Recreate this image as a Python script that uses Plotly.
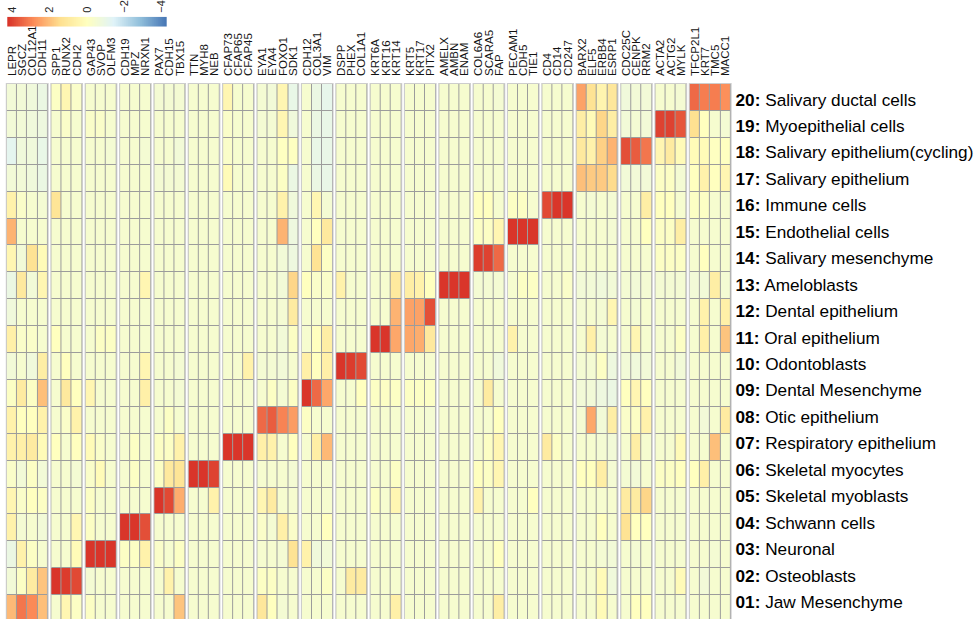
import numpy as np
import plotly.graph_objects as go

# Marker genes, one block per cluster (cluster 01 ... cluster 20)
gene_groups = [
    ["LEPR", "SGCZ", "COL12A1", "CDH11"],
    ["SPP1", "RUNX2", "CDH2"],
    ["GAP43", "SVOP", "OLFM3"],
    ["CDH19", "MPZ", "NRXN1"],
    ["PAX7", "CDH15", "TBX15"],
    ["TTN", "MYH8", "NEB"],
    ["CFAP73", "CFAP65", "CFAP45"],
    ["EYA1", "EYA4", "FOXO1", "SDK1"],
    ["CDH12", "COL3A1", "VIM"],
    ["DSPP", "PHEX", "COL1A1"],
    ["KRT6A", "KRT16", "KRT14"],
    ["KRT5", "KRT17", "PITX2"],
    ["AMELX", "AMBN", "ENAM"],
    ["COL6A6", "SCARA5", "FAP"],
    ["PECAM1", "CDH5", "TIE1"],
    ["CD4", "CD14", "CD247"],
    ["BARX2", "ELF5", "ERBB4", "ESRP1"],
    ["CDC25C", "CENPK", "RRM2"],
    ["ACTA2", "ACTG2", "MYLK"],
    ["TFCP2L1", "KRT7", "TMC5", "MACC1"],
]

cluster_ids = ["01", "02", "03", "04", "05", "06", "07", "08", "09", "10",
               "11", "12", "13", "14", "15", "16", "17", "18", "19", "20"]
cluster_names = [
    "Jaw Mesenchyme", "Osteoblasts", "Neuronal", "Schwann cells",
    "Skeletal myoblasts", "Skeletal myocytes", "Respiratory epithelium",
    "Otic epithelium", "Dental Mesenchyme", "Odontoblasts", "Oral epithelium",
    "Dental epithelium", "Ameloblasts", "Salivary mesenchyme",
    "Endothelial cells", "Immune cells", "Salivary epithelium",
    "Salivary epithelium(cycling)", "Myoepithelial cells",
    "Salivary ductal cells",
]

# Scaled mean expression per cluster, split by gene block
z01 = [[2.1, 3.2, 2.9, 2.0], [-0.4, 0.4, -0.12], [-0.12, -0.4, -0.4], [-0.4, -0.4, -0.4],
       [-0.4, -0.4, 1.9], [-0.4, -0.4, -0.4], [-0.4, -0.4, -0.4], [1.1, 0.0, -0.5, -0.4],
       [-0.4, -0.4, -0.4], [-0.4, -0.4, -0.4], [-0.4, -0.4, 0.7], [-0.4, -0.4, -0.4],
       [-0.4, -0.4, -0.4], [-0.4, -0.4, 0.8], [-0.4, -0.4, -0.4], [-0.4, -0.4, -0.4],
       [-0.4, -0.4, 0.2, -0.4], [-0.4, 0.0, 0.0], [-0.4, -0.4, -0.4], [-0.4, -0.4, -0.4, -0.4]]
z02 = [[-0.6, -0.12, 0.9, 1.9], [4.2, 4.1, 3.9], [-0.5, -0.4, -0.4], [-0.4, -0.4, -0.4],
       [-0.4, 0.6, -0.4], [-0.4, -0.4, -0.4], [-0.4, -0.4, -0.4], [-0.12, -0.12, -0.4, -0.4],
       [-0.4, -0.4, -0.12], [-0.4, 0.9, 0.9], [-0.4, -0.4, -0.4], [-0.4, -0.4, -0.4],
       [-0.4, -0.4, -0.4], [-0.4, -0.4, -0.4], [-0.4, -0.4, -0.4], [-0.4, -0.4, -0.4],
       [-0.4, -0.4, 0.2, -0.7], [-0.4, -0.4, -0.4], [-0.4, -0.4, 0.2], [-0.4, -0.6, -0.4, -0.4]]
z03 = [[-0.9, 0.6, -0.12, -0.4], [-0.4, -0.4, 0.2], [4.2, 4.2, 4.2], [-0.12, -0.12, 0.6],
       [-0.25, -0.4, -0.12], [-0.4, -0.4, -0.4], [-0.4, -0.4, -0.4], [-0.4, -0.4, -0.5, 1.3],
       [0.6, -0.7, -0.6], [-0.4, -0.4, -0.4], [-0.4, -0.4, -0.4], [-0.4, -0.4, -0.4],
       [-0.4, -0.4, -0.4], [-0.4, -0.4, 0.0], [-0.4, -0.4, -0.4], [-0.4, -0.4, -0.4],
       [-0.4, -0.4, -0.5, -0.6], [-0.4, -0.5, -0.4], [-0.4, -0.4, -0.4], [-0.4, -0.4, -0.5, -0.4]]
z04 = [[0.6, -0.5, -0.4, -0.6], [-0.4, -0.4, 0.4], [-0.12, -0.4, -0.4], [4.2, 4.2, 3.8],
       [-0.4, -0.4, -0.4], [-0.4, -0.4, -0.4], [-0.4, -0.4, -0.4], [-0.25, -0.5, 0.7, -0.25],
       [-0.4, -0.4, 0.0], [-0.4, -0.4, -0.4], [-0.4, -0.4, -0.4], [-0.4, -0.4, -0.4],
       [-0.4, -0.4, -0.4], [-0.4, -0.4, -0.4], [-0.4, -0.4, -0.4], [-0.4, -0.4, -0.4],
       [-0.4, -0.4, 0.0, -0.4], [1.3, 0.0, 0.0], [-0.4, -0.4, -0.4], [-0.4, -0.4, -0.4, -0.4]]
z05 = [[0.4, -0.25, 0.0, -0.12], [-0.4, -0.4, -0.4], [-0.12, -0.4, -0.4], [-0.4, -0.4, -0.4],
       [4.2, 3.9, 2.3], [-0.4, -0.4, 0.6], [-0.4, -0.4, -0.4], [0.4, 0.9, -0.4, -0.4],
       [-0.4, -0.4, -0.4], [-0.4, -0.4, -0.4], [-0.12, -0.4, 0.4], [-0.4, -0.4, -0.4],
       [-0.4, -0.4, -0.4], [0.6, -0.4, -0.4], [-0.4, -0.4, 0.0], [-0.4, -0.4, -0.4],
       [-0.4, -0.4, -0.4, -0.4], [0.9, 0.9, 1.6], [-0.4, -0.4, -0.4], [-0.4, -0.4, -0.4, -0.4]]
z06 = [[-0.25, -0.6, -0.12, -0.6], [-0.4, -0.4, -0.5], [-0.25, 0.2, -0.4], [-0.4, -0.12, -0.4],
       [-0.12, 1.0, 1.2], [4.2, 4.2, 4.0], [-0.4, -0.4, -0.4], [-0.4, -0.4, -0.4, -0.5],
       [-0.4, -0.4, -0.4], [-0.4, -0.4, -0.4], [-0.4, -0.4, -0.12], [-0.4, -0.4, -0.4],
       [-0.4, -0.4, -0.4], [0.0, -0.12, 0.4], [-0.4, -0.4, -0.4], [-0.4, -0.4, -0.4],
       [0.0, 0.0, 0.8, -0.5], [-0.5, -0.6, -0.4], [-0.12, -0.12, 0.0], [0.0, 0.7, -0.4, -0.4]]
z07 = [[0.6, 0.7, 0.9, 0.2], [0.0, -0.4, 0.0], [0.2, -0.25, -0.4], [-0.4, -0.12, -0.4],
       [-0.12, -0.12, 0.6], [-0.4, -0.4, -0.4], [4.2, 4.2, 4.2], [0.7, 0.6, -0.4, 0.0],
       [-0.4, 0.8, 2.1], [-0.4, -0.4, -0.4], [-0.4, -0.4, -0.4], [-0.4, -0.4, -0.4],
       [-0.4, -0.4, -0.4], [-0.4, -0.12, 0.4], [-0.4, -0.4, -0.4], [0.9, -0.12, -0.4],
       [-0.4, -0.4, -0.5, -0.6], [-0.4, 0.8, -0.4], [-0.4, -0.4, 0.2], [-0.4, -0.4, 2.0, -0.4]]
z08 = [[0.6, 0.0, 0.0, 0.6], [-0.4, -0.25, 0.6], [-0.4, -0.4, -0.4], [-0.4, -0.4, -0.4],
       [-0.4, -0.12, -0.4], [-0.4, -0.4, -0.4], [-0.4, -0.4, -0.4], [3.4, 3.6, 3.0, 2.6],
       [-0.12, -0.4, -0.4], [-0.4, -0.4, -0.4], [-0.4, -0.4, -0.4], [-0.4, -0.4, -0.5],
       [-0.4, -0.4, -0.4], [-0.4, -0.4, 0.0], [-0.4, -0.4, -0.4], [-0.4, -0.4, -0.4],
       [-0.5, 2.4, -0.6, 0.8], [-0.25, -0.12, 0.6], [-0.4, -0.4, -0.4], [-0.4, -0.6, -0.4, 0.9]]
z09 = [[-0.12, 0.9, -0.12, 2.0], [-0.4, 1.0, 0.0], [0.4, -0.4, -0.4], [-0.4, -0.4, 0.7],
       [-0.4, -0.4, -0.5], [-0.4, -0.4, -0.4], [-0.4, -0.4, -0.4], [-0.4, -0.12, -0.5, -0.12],
       [4.2, 3.4, 2.4], [-0.4, -0.4, 0.0], [-0.12, -0.12, -0.12], [-0.12, -0.12, -0.12],
       [-0.4, -0.4, -0.4], [-0.4, 0.9, -0.4], [-0.4, -0.4, -0.4], [-0.4, -0.4, -0.4],
       [-0.6, -0.6, -0.8, -0.9], [0.0, 0.4, 0.0], [-0.4, -0.4, -0.4], [-0.4, -0.4, -0.4, -0.4]]
z10 = [[-0.6, -0.4, -0.7, 0.8], [-0.4, 0.0, -0.4], [-0.4, -0.4, -0.4], [-0.4, -0.4, 0.4],
       [-0.4, -0.4, -0.5], [-0.4, -0.4, -0.4], [-0.4, -0.4, 0.6], [-0.5, -0.5, -0.6, -0.4],
       [0.7, 0.0, 0.7], [4.2, 4.1, 3.9], [-0.4, -0.4, -0.4], [-0.4, -0.4, -0.4],
       [-0.4, -0.4, -0.4], [-0.4, -0.4, -0.7], [-0.4, -0.4, -0.4], [-0.4, -0.4, -0.4],
       [-0.5, -0.5, -0.12, -0.8], [-0.6, -0.7, -0.6], [-0.4, -0.4, -0.6], [-0.4, -0.4, -0.4, -0.4]]
z11 = [[0.7, -0.25, -0.25, -0.4], [0.0, -0.4, -0.4], [-0.4, -0.12, -0.12], [-0.4, -0.4, -0.4],
       [-0.4, -0.4, -0.4], [-0.4, -0.4, -0.4], [-0.4, -0.4, -0.4], [-0.4, -0.4, -0.6, -0.12],
       [-0.4, 0.0, 0.8], [-0.4, -0.4, -0.4], [4.2, 4.2, 2.4], [2.4, 2.3, 1.0],
       [-0.4, -0.4, -0.4], [-0.4, -0.4, -0.4], [0.6, -0.4, -0.4], [-0.4, -0.4, -0.4],
       [-0.4, 0.7, -0.5, -0.4], [-0.4, 0.4, -0.4], [-0.4, -0.4, -0.12], [-0.4, 0.7, -0.4, 1.9]]
z12 = [[-0.7, -0.4, -0.4, -0.4], [-0.4, -0.4, -0.4], [-0.4, -0.4, -0.4], [-0.4, -0.4, -0.4],
       [-0.4, -0.4, -0.4], [-0.4, -0.4, -0.4], [-0.4, -0.4, -0.4], [-0.4, -0.4, -0.5, 0.9],
       [-0.4, -0.4, -0.4], [-0.4, -0.4, -0.4], [-0.4, -0.4, 2.2], [2.5, 2.5, 3.8],
       [-0.4, -0.4, -0.4], [-0.4, -0.4, -0.4], [-0.4, -0.4, -0.4], [-0.4, -0.4, -0.4],
       [-0.5, -0.4, -0.5, 0.4], [-0.4, -0.5, -0.4], [-0.4, -0.4, -0.4], [-0.4, 0.6, -0.4, 0.7]]
z13 = [[-0.9, 1.0, -0.6, 0.4], [-0.4, -0.4, -0.4], [-0.4, -0.4, -0.4], [-0.4, -0.4, 0.4],
       [-0.4, -0.4, -0.4], [-0.4, -0.4, -0.4], [-0.4, -0.4, -0.4], [-0.4, -0.4, -0.6, 1.6],
       [0.0, -0.25, -0.25], [0.6, -0.4, -0.4], [-0.4, -0.4, 1.0], [0.8, 0.6, 0.0],
       [4.2, 4.2, 4.2], [-0.5, -0.5, -0.5], [-0.4, -0.12, -0.12], [-0.4, -0.4, -0.25],
       [-0.6, -0.6, -0.7, -0.6], [-0.5, -0.6, -0.5], [-0.5, -0.5, -0.5], [-0.6, -0.6, 0.8, -0.5]]
z14 = [[0.4, -0.6, 1.3, 0.2], [-0.4, -0.4, -0.4], [-0.4, -0.4, -0.4], [-0.4, -0.4, -0.4],
       [-0.4, -0.4, -0.4], [-0.4, -0.4, -0.4], [-0.4, -0.4, -0.4], [-0.4, -0.4, -0.6, -0.8],
       [-0.4, 1.3, -0.12], [-0.4, -0.4, -0.4], [-0.4, -0.4, -0.4], [-0.4, -0.4, -0.4],
       [-0.4, -0.4, -0.4], [4.1, 4.0, 3.4], [-0.4, -0.4, -0.4], [-0.4, -0.4, -0.4],
       [-0.4, -0.4, -0.4, -0.4], [-0.4, -0.4, -0.4], [-0.12, -0.12, -0.12], [-0.4, 0.0, -0.4, -0.4]]
z15 = [[2.2, -0.4, -0.4, -0.4], [-0.4, -0.4, -0.4], [-0.4, -0.4, -0.4], [-0.4, -0.4, -0.4],
       [-0.4, -0.4, -0.4], [-0.4, -0.4, -0.4], [-0.4, -0.4, -0.4], [-0.4, -0.4, 2.2, -0.8],
       [-0.4, 0.0, 1.0], [-0.4, -0.4, -0.4], [-0.4, -0.4, -0.4], [-0.4, -0.4, -0.4],
       [-0.4, -0.4, -0.4], [-0.12, -0.12, 0.4], [4.2, 4.2, 4.2], [-0.4, -0.4, -0.4],
       [-0.4, -0.4, -0.4, -0.5], [-0.4, -0.4, 0.0], [-0.12, -0.12, 0.8], [-0.4, -0.4, -0.4, -0.4]]
z16 = [[0.6, -0.25, -0.4, -0.5], [1.2, -0.4, -0.4], [-0.4, -0.4, -0.4], [-0.4, -0.4, -0.4],
       [-0.4, -0.4, -0.4], [-0.4, -0.4, -0.4], [-0.4, -0.4, -0.4], [-0.4, -0.4, 0.6, -0.7],
       [-0.4, 0.4, -0.5], [-0.4, -0.4, -0.4], [-0.4, -0.4, -0.4], [-0.4, -0.4, -0.4],
       [-0.4, -0.4, -0.4], [0.0, 0.0, -0.4], [-0.12, -0.12, -0.4], [3.9, 4.2, 4.2],
       [-0.4, -0.5, -0.4, -0.5], [-0.4, -0.4, 0.8], [0.0, 0.0, -0.4], [-0.12, -0.12, -0.4, -0.4]]
z17 = [[-0.6, -0.6, -0.7, -0.9], [-0.4, -0.4, -0.4], [-0.4, -0.4, -0.4], [-0.4, -0.4, -0.4],
       [-0.5, -0.5, -0.5], [-0.4, -0.4, -0.4], [0.2, -0.4, -0.4], [-0.4, -0.4, -0.12, -0.9],
       [-0.4, -0.9, -1.0], [-0.4, -0.4, -0.4], [-0.4, -0.4, -0.4], [-0.4, -0.4, -0.4],
       [-0.4, -0.4, -0.4], [-0.4, -0.4, -0.4], [-0.4, -0.4, -0.4], [-0.4, -0.4, -0.4],
       [2.0, 1.8, 1.8, 1.5], [-0.6, -0.6, -0.6], [-0.12, -0.12, -0.5], [0.0, 0.6, 0.0, 0.4]]
z18 = [[-1.2, -0.7, -0.7, -1.0], [-0.4, -0.4, -0.4], [-0.4, -0.4, -0.5], [-0.4, -0.4, -0.5],
       [-0.4, -0.4, -0.6], [-0.4, -0.4, -0.4], [-0.25, -0.4, -0.4], [-0.4, -0.4, -0.05, -0.05],
       [-0.4, -1.0, -1.0], [-0.4, -0.4, -0.4], [-0.4, -0.4, -0.4], [-0.4, -0.4, -0.4],
       [-0.4, -0.4, -0.4], [-0.4, -0.4, -0.4], [-0.4, -0.4, -0.4], [-0.4, -0.4, -0.4],
       [1.0, 0.6, 1.7, 2.2], [3.8, 3.6, 3.2], [0.4, 0.9, 0.2], [0.2, 0.2, -0.05, -0.05]]
z19 = [[-0.6, -0.6, -0.7, -0.8], [-0.4, -0.25, -0.4], [-0.25, -0.25, -0.4], [-0.4, -0.4, -0.4],
       [-0.4, -0.4, -0.4], [-0.4, -0.4, -0.4], [-0.25, -0.4, -0.4], [-0.5, -0.5, 0.4, -0.7],
       [-0.4, -0.9, -1.0], [-0.4, -0.4, -0.4], [-0.4, -0.4, -0.4], [-0.4, -0.4, -0.4],
       [-0.4, -0.4, -0.4], [-0.4, -0.4, -0.4], [-0.4, -0.4, -0.4], [-0.4, -0.4, -0.4],
       [0.8, 0.2, 1.6, 0.8], [-0.6, -0.5, -0.6], [4.0, 4.0, 3.7], [1.4, 0.0, -0.4, -0.5]]
z20 = [[-0.6, -0.6, -0.7, -0.9], [-0.12, 0.4, -0.25], [-0.4, -0.4, -0.4], [-0.4, -0.4, -0.4],
       [-0.5, -0.5, -0.5], [-0.4, -0.4, -0.4], [0.4, -0.4, -0.4], [-0.5, -0.6, 0.4, -1.0],
       [-0.4, -0.9, -1.1], [-0.4, -0.4, -0.4], [-0.4, -0.4, -0.4], [-0.4, -0.4, -0.4],
       [-0.4, -0.4, -0.4], [-0.4, -0.4, -0.5], [-0.4, -0.4, -0.4], [-0.4, -0.4, -0.4],
       [2.5, 1.3, 0.5, 1.1], [-0.7, -0.6, -0.6], [-0.4, -0.4, -0.5], [3.4, 3.1, 3.1, 2.8]]

cluster_rows = [z01, z02, z03, z04, z05, z06, z07, z08, z09, z10,
                z11, z12, z13, z14, z15, z16, z17, z18, z19, z20]

# legend scale limits and tick values
scale_min, scale_max = -4.28, 4.28
legend_ticks = [4, 2, 0, -2, -4]
legend_ticktext = ["4", "2", "0", "\u22122", "\u22124"]

# pheatmap default palette: rev(RdYlBu, 7)
palette = ["#4575B4", "#91BFDB", "#E0F3F8", "#FFFFBF", "#FEE090", "#FC8D59", "#D73027"]
colorscale = [[i / (len(palette) - 1), c] for i, c in enumerate(palette)]

# ---- geometry (pixels) ----
W, H = 976, 619
CELL_W = 10.17          # px per gene column
ROW_H = 26.9            # px per cluster row
GAP = 3.83 / CELL_W     # gap between gene blocks, in column units
LEFT_PX = 6.9           # left edge of first cell
TOP_PX = 84.0           # top edge of first row
PAD_PX = 2.0            # room for the block outlines
LABEL_TOP_PX = 99.5     # centre of the first row label
LABEL_STEP_PX = 26.45   # spacing of the row labels

# column centres, one list per block
block_x = []
pos = 0.0
for grp in gene_groups:
    block_x.append([pos + i for i in range(len(grp))])
    pos += len(grp) + GAP

x_lo = -0.5 - PAD_PX / CELL_W
x_hi = block_x[-1][-1] + 0.5 + PAD_PX / CELL_W
dom_x0 = (LEFT_PX - PAD_PX) / W
dom_x1 = dom_x0 + (x_hi - x_lo) * CELL_W / W

n_rows = len(cluster_ids)
y_top = n_rows - 0.5 + PAD_PX / ROW_H
y_bot = (n_rows - 0.5) - (H - TOP_PX) / ROW_H
dom_y1 = (H - (TOP_PX - PAD_PX)) / H

fig = go.Figure()

# one heatmap trace per gene block so blocks stay separated
for b, grp in enumerate(gene_groups):
    zb = [row[b] for row in cluster_rows]
    fig.add_trace(go.Heatmap(
        x=block_x[b], y=list(range(n_rows)), z=zb,
        coloraxis="coloraxis", xgap=1, ygap=1,
        hovertemplate="%{text}<extra></extra>",
        text=[[f"{grp[j]} | {cluster_ids[r]}: {cluster_names[r]} | {zb[r][j]:.2f}"
               for j in range(len(grp))] for r in range(n_rows)],
    ))
    # block outline and cell borders underneath the tiles
    x0 = block_x[b][0] - 0.5
    x1 = block_x[b][-1] + 0.5
    px = 1.1 / CELL_W
    py = 1.1 / ROW_H
    fig.add_shape(type="rect", xref="x", yref="y", layer="below",
                  x0=x0 - px, x1=x1 + px, y0=-0.5 - py, y1=n_rows - 0.5 + py,
                  fillcolor="#cdcdcd", line_width=0)
    fig.add_shape(type="rect", xref="x", yref="y", layer="below",
                  x0=x0, x1=x1, y0=-0.5, y1=n_rows - 0.5,
                  fillcolor="#9c9c9c", line_width=0)

# colour key strip
legend_vals = list(np.linspace(scale_max, scale_min, 240))
fig.add_trace(go.Heatmap(
    x=legend_vals, y=[0], z=[legend_vals], coloraxis="coloraxis",
    xaxis="x2", yaxis="y2", hoverinfo="skip",
))

# carrier for the row-label axis
fig.add_trace(go.Scatter(x=[None], y=[None], yaxis="y3", mode="markers",
                         showlegend=False, hoverinfo="skip"))

gene_labels = [g for grp in gene_groups for g in grp]
gene_pos = [x for xs in block_x for x in xs]
row_labels = [f"<b>{cid}:</b> {name}" for cid, name in zip(cluster_ids, cluster_names)]
# row labels listed top (20) to bottom (01), positions in px from the top
label_text = row_labels[::-1]
label_pos = [LABEL_TOP_PX + i * LABEL_STEP_PX for i in range(n_rows)]

font_family = "Arial, 'Liberation Sans', sans-serif"

fig.update_layout(
    width=W, height=H,
    margin=dict(l=0, r=0, t=0, b=0),
    paper_bgcolor="white", plot_bgcolor="white",
    showlegend=False,
    font=dict(family=font_family, color="#222222"),
    coloraxis=dict(colorscale=colorscale, cmin=scale_min, cmax=scale_max, showscale=False),
    xaxis=dict(
        domain=[dom_x0, dom_x1], range=[x_lo, x_hi], side="top",
        tickmode="array", tickvals=gene_pos, ticktext=gene_labels,
        tickangle=-90, tickfont=dict(size=11.5, color="#141414"),
        ticks="", showgrid=False, zeroline=False, showline=False,
        automargin=False, ticklabelstandoff=5, fixedrange=True,
    ),
    yaxis=dict(
        domain=[0, dom_y1], range=[y_bot, y_top],
        showticklabels=False, ticks="", showgrid=False, zeroline=False,
        showline=False, automargin=False, fixedrange=True,
    ),
    yaxis3=dict(
        domain=[0, dom_y1], range=[H, TOP_PX - PAD_PX], anchor="x",
        overlaying="y", side="right",
        tickmode="array", tickvals=label_pos, ticktext=label_text,
        tickfont=dict(size=17.2, color="#000000"),
        ticks="", showgrid=False, zeroline=False, showline=False,
        automargin=False, ticklabelstandoff=2, fixedrange=True,
    ),
    xaxis2=dict(
        domain=[7.3 / W, 166.7 / W], range=[scale_max, scale_min], anchor="y2",
        side="top", tickmode="array", tickvals=legend_ticks, ticktext=legend_ticktext,
        tickangle=-90, tickfont=dict(size=11, color="#262626"),
        ticks="", showgrid=False, zeroline=False, showline=False,
        automargin=False, ticklabelstandoff=3, fixedrange=True,
    ),
    yaxis2=dict(
        domain=[(H - 26.7) / H, (H - 16.7) / H], range=[-0.5, 0.5], anchor="x2",
        showticklabels=False, ticks="", showgrid=False, zeroline=False,
        showline=False, automargin=False, fixedrange=True,
    ),
)

fig.write_html("out.html")
